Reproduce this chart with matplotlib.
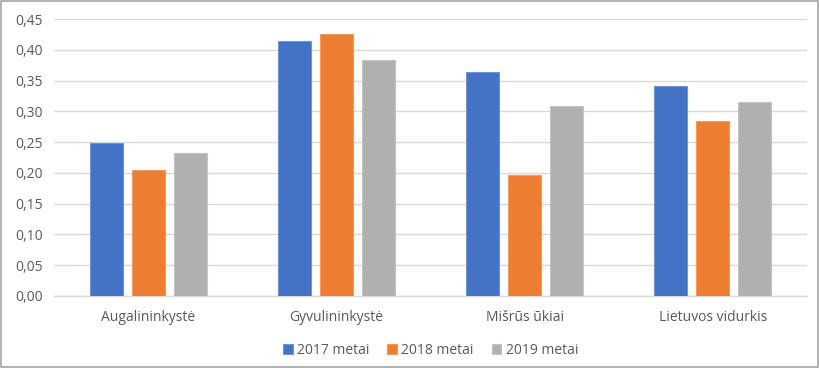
import matplotlib
matplotlib.use("Agg")
import matplotlib.pyplot as plt
import numpy as np
from matplotlib.patches import Rectangle

categories = ["Augalininkystė", "Gyvulininkystė", "Mišrūs ūkiai", "Lietuvos vidurkis"]
series_names = ["2017 metai", "2018 metai", "2019 metai"]
v2017 = [0.249, 0.414, 0.364, 0.341]
v2018 = [0.205, 0.426, 0.196, 0.284]
v2019 = [0.233, 0.383, 0.309, 0.315]
yticks = [0.00, 0.05, 0.10, 0.15, 0.20, 0.25, 0.30, 0.35, 0.40, 0.45]
ytick_labels = ["0,00", "0,05", "0,10", "0,15", "0,20", "0,25", "0,30", "0,35", "0,40", "0,45"]

colors = ["#4472C4", "#ED7D31", "#B0B0B0"]
edge = ["#6f93d6", "#f39a5e", "#c4c4c4"]
text_color = "#595959"

plt.rcParams['font.family'] = ['Open Sans', 'DejaVu Sans']

fig = plt.figure(figsize=(8.2, 3.68), dpi=100)
ax = fig.add_axes([0.066, 0.196, 0.918, 0.752])

x = np.arange(len(categories))
width = 0.175
step = 0.223
for i, (vals, name) in enumerate(zip([v2017, v2018, v2019], series_names)):
    ax.bar(x + (i - 1) * step, vals, width, color=colors[i], edgecolor=edge[i],
           linewidth=0.8, label=name, zorder=3)

ax.set_xlim(-0.5, len(categories) - 0.5)
ax.set_ylim(0, 0.45)
ax.set_yticks(yticks)
ax.set_yticklabels(ytick_labels)
ax.set_xticks(x)
ax.set_xticklabels(categories)
ax.grid(axis='y', color='#d9d9d9', linewidth=1.0, zorder=0)
for s in ["top", "right", "left"]:
    ax.spines[s].set_visible(False)
ax.spines["bottom"].set_color('#d9d9d9')
ax.spines["bottom"].set_linewidth(1.0)
ax.tick_params(axis='both', length=0, colors=text_color, labelsize=10)
ax.tick_params(axis='x', pad=10)
ax.tick_params(axis='y', pad=8)

leg = fig.legend(loc='center', bbox_to_anchor=(0.525, 0.048), ncol=3, frameon=False,
                 fontsize=10, handlelength=0.7, handleheight=0.7, handletextpad=0.3,
                 columnspacing=1.3, labelcolor=text_color)

fig.add_artist(Rectangle((0.001, 0.002), 0.997, 0.995, transform=fig.transFigure,
                         fill=False, edgecolor='#a6a6a6', linewidth=1.2))

fig.savefig("out.png", dpi=100)
